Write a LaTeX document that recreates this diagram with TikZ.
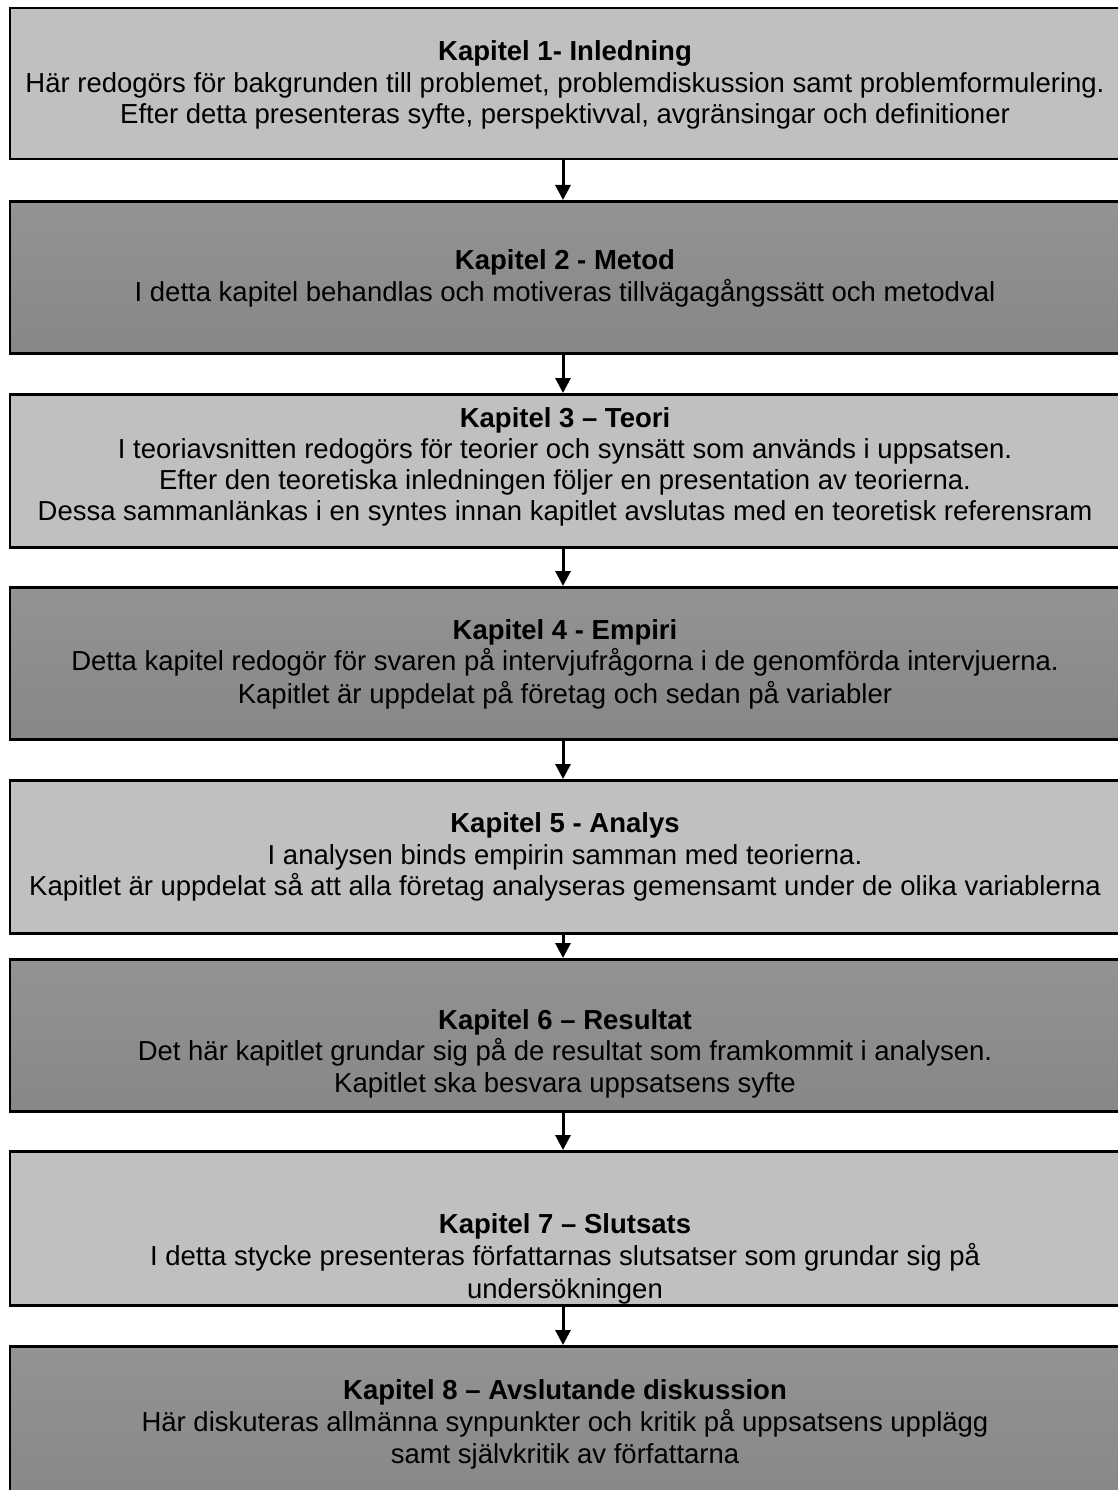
\documentclass[tikz,border=0pt]{standalone}
\usepackage{fontspec}
\setmainfont{Liberation Sans}
\usetikzlibrary{arrows.meta}
\definecolor{lightbox}{HTML}{C0C0C0}
\definecolor{darkboxtop}{HTML}{939393}
\definecolor{darkboxbot}{HTML}{878787}
\tikzset{
  boxbase/.style={draw=black, line width=2.5pt, inner sep=0pt, minimum width=1112pt, anchor=north},
  lightbox/.style={boxbase, fill=lightbox},
  darkbox/.style={boxbase, top color=darkboxtop, bottom color=darkboxbot},
  ttl/.style={anchor=base, inner sep=0pt, font=\fontsize{27.5}{32}\selectfont\bfseries},
  txt/.style={anchor=base, inner sep=0pt, font=\fontsize{27.5}{32}\selectfont},
  flow/.style={line width=3pt, -{Triangle[width=15pt,length=15pt]}}
}
\begin{document}
\begin{tikzpicture}[x=1pt,y=-1pt]
\useasboundingbox (0,0) rectangle (1118,1490);
\clip (0,0) rectangle (1118,1490);
\fill[white] (0,0) rectangle (1118,1490);
% boxes
\node[lightbox, minimum height=151pt] (b1) at (566,7) {};
\node[darkbox, minimum height=152pt] (b2) at (566,200) {};
\node[lightbox, minimum height=153pt] (b3) at (566,393) {};
\node[darkbox, minimum height=152pt] (b4) at (566,586) {};
\node[lightbox, minimum height=153pt] (b5) at (566,779) {};
\node[darkbox, minimum height=152pt] (b6) at (566,958) {};
\node[lightbox, minimum height=154pt] (b7) at (566,1150) {};
\node[darkbox, minimum height=160pt] (b8) at (566,1345) {};
% arrows
\coordinate (ax) at (563,0);
\draw[flow] (b1.south -| ax) -- (b2.north -| ax);
\draw[flow] (b2.south -| ax) -- (b3.north -| ax);
\draw[flow] (b3.south -| ax) -- (b4.north -| ax);
\draw[flow] (b4.south -| ax) -- (b5.north -| ax);
\draw[flow] (b5.south -| ax) -- (b6.north -| ax);
\draw[flow] (b6.south -| ax) -- (b7.north -| ax);
\draw[flow] (b7.south -| ax) -- (b8.north -| ax);
% texts
\node[ttl] (t1a) at (565,61) {Kapitel 1- Inledning};
\node[txt] (t1b) at (565,93) {Här redogörs för bakgrunden till problemet, problemdiskussion samt problemformulering.};
\node[txt] (t1c) at (565,124) {Efter detta presenteras syfte, perspektivval, avgränsingar och definitioner};

\node[ttl] (t2a) at (565,269) {Kapitel 2 - Metod};
\node[txt] (t2b) at (565,301) {I detta kapitel behandlas och motiveras tillvägagångssätt och metodval};

\node[ttl] (t3a) at (565,427) {Kapitel 3 – Teori};
\node[txt] (t3b) at (565,458) {I teoriavsnitten redogörs för teorier och synsätt som används i uppsatsen.};
\node[txt] (t3c) at (565,489) {Efter den teoretiska inledningen följer en presentation av teorierna.};
\node[txt] (t3d) at (565,520) {Dessa sammanlänkas i en syntes innan kapitlet avslutas med en teoretisk referensram};

\node[ttl] (t4a) at (565,639) {Kapitel 4 - Empiri};
\node[txt] (t4b) at (565,670) {Detta kapitel redogör för svaren på intervjufrågorna i de genomförda intervjuerna.};
\node[txt] (t4c) at (565,703) {Kapitlet är uppdelat på företag och sedan på variabler};

\node[ttl] (t5a) at (565,832) {Kapitel 5 - Analys};
\node[txt] (t5b) at (565,864) {I analysen binds empirin samman med teorierna.};
\node[txt] (t5c) at (565,895) {Kapitlet är uppdelat så att alla företag analyseras gemensamt under de olika variablerna};

\node[ttl] (t6a) at (565,1029) {Kapitel 6 – Resultat};
\node[txt] (t6b) at (565,1060) {Det här kapitlet grundar sig på de resultat som framkommit i analysen.};
\node[txt] (t6c) at (565,1092) {Kapitlet ska besvara uppsatsens syfte};

\node[ttl] (t7a) at (565,1233) {Kapitel 7 – Slutsats};
\node[txt] (t7b) at (565,1265) {I detta stycke presenteras författarnas slutsatser som grundar sig på};
\node[txt] (t7c) at (565,1298) {undersökningen};

\node[ttl] (t8a) at (565,1399) {Kapitel 8 – Avslutande diskussion};
\node[txt] (t8b) at (565,1431) {Här diskuteras allmänna synpunkter och kritik på uppsatsens upplägg};
\node[txt] (t8c) at (565,1463) {samt självkritik av författarna};
\end{tikzpicture}
\end{document}
